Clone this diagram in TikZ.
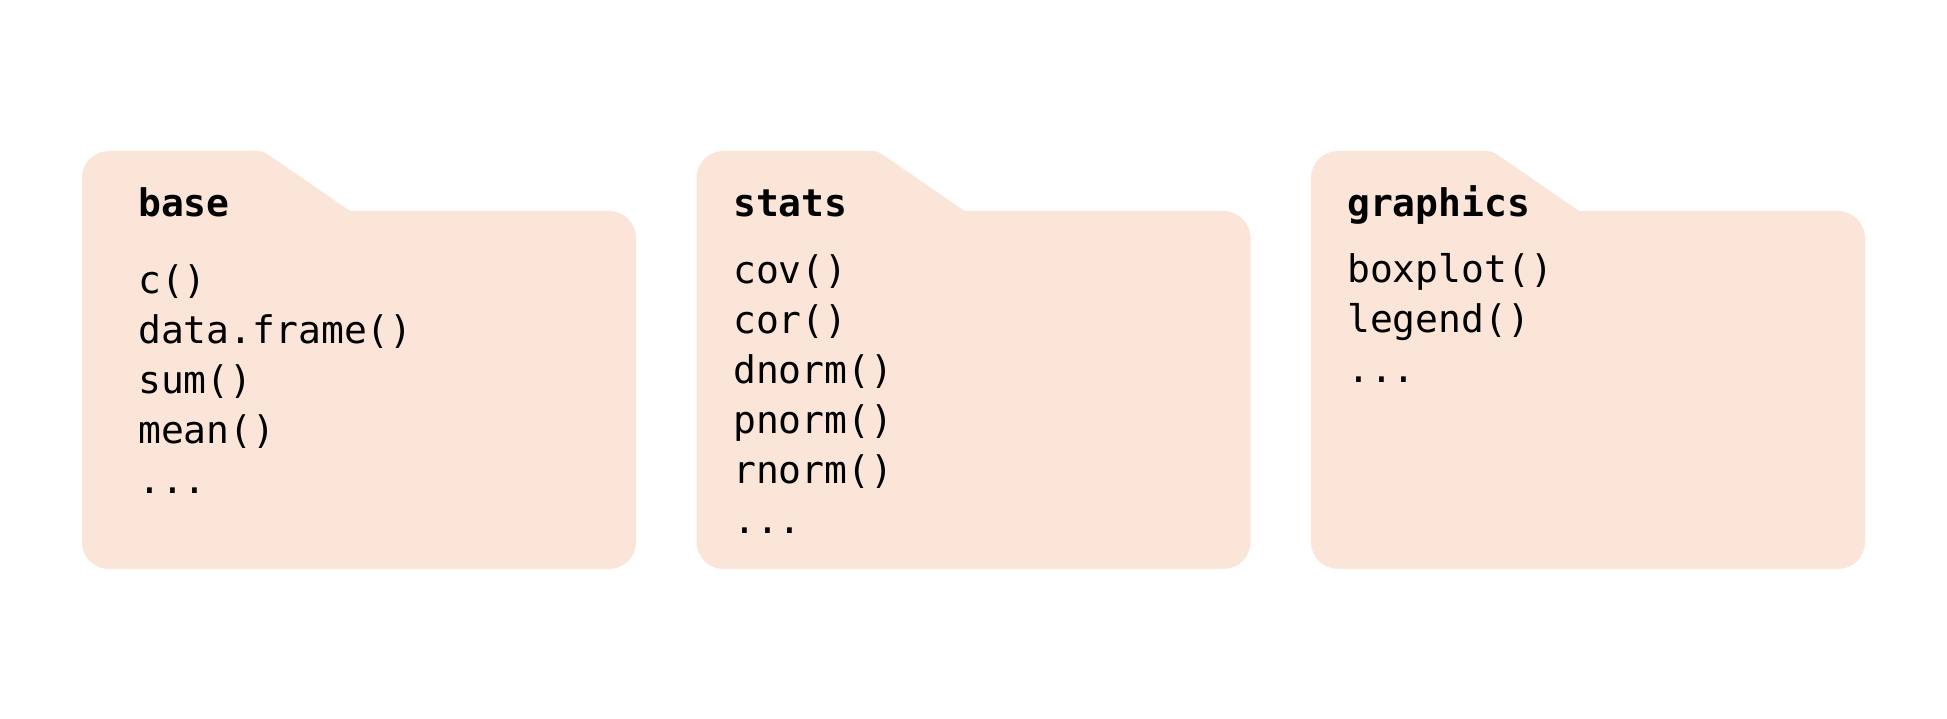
\documentclass[tikz,border=0pt]{standalone}
\usepackage{fontspec}
\setmonofont{DejaVu Sans Mono}
\definecolor{folderfill}{HTML}{FAE5D8}
\tikzset{
  folderbody/.style={fill=folderfill, draw=none},
  titletext/.style={anchor=base west, inner sep=0pt, font=\ttfamily\bfseries\fontsize{38}{50}\selectfont},
  itemtext/.style={anchor=base west, inner sep=0pt, font=\ttfamily\fontsize{38}{50}\selectfont},
}
\newcommand{\folderat}[1]{%
  \fill[folderbody] (#1,300) -- (#1,540) arc[start angle=180,end angle=90,radius=27]
    -- (#1+171,567) .. controls (#1+181,567) .. (#1+189.2,561.3)
    -- (#1+268,507) -- (#1+527,507) arc[start angle=90,end angle=0,radius=27]
    -- (#1+554,176) arc[start angle=0,end angle=-90,radius=27]
    -- (#1+27,149) arc[start angle=270,end angle=180,radius=27] -- cycle;}
\begin{document}
\begin{tikzpicture}[x=1pt,y=1pt]
\useasboundingbox (0,0) rectangle (1947,718);
\folderat{82}
\folderat{696.5}
\folderat{1311}
% base
\node[titletext] (basetitle) at (138,501) {base};
\node[itemtext] (b1) at (138,424) {c()};
\node[itemtext] (b2) at (138,374) {data.frame()};
\node[itemtext] (b3) at (138,324) {sum()};
\node[itemtext] (b4) at (138,274) {mean()};
\node[itemtext] (b5) at (138,224) {...};
% stats
\node[titletext] (statstitle) at (733,501) {stats};
\node[itemtext] (s1) at (733,434) {cov()};
\node[itemtext] (s2) at (733,384) {cor()};
\node[itemtext] (s3) at (733,334) {dnorm()};
\node[itemtext] (s4) at (733,284) {pnorm()};
\node[itemtext] (s5) at (733,234) {rnorm()};
\node[itemtext] (s6) at (733,184) {...};
% graphics
\node[titletext] (graphicstitle) at (1347,501) {graphics};
\node[itemtext] (g1) at (1347,435) {boxplot()};
\node[itemtext] (g2) at (1347,385) {legend()};
\node[itemtext] (g3) at (1347,335) {...};
\end{tikzpicture}
\end{document}
